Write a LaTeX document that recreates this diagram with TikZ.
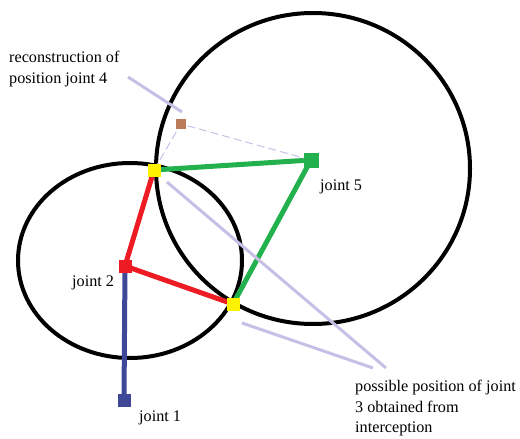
\documentclass[tikz,border=0pt]{standalone}
\usepackage{fontspec}
\setmainfont{Liberation Serif}
\usetikzlibrary{backgrounds}
\definecolor{jblue}{RGB}{63,72,152}
\definecolor{jred}{RGB}{237,28,36}
\definecolor{jgreen}{RGB}{34,177,76}
\definecolor{jyellow}{RGB}{255,242,0}
\definecolor{jbrown}{RGB}{185,122,87}
\definecolor{lav}{RGB}{200,191,231}

\begin{document}
\begin{tikzpicture}[
    x=1pt, y=-1pt,
    joint/.style={draw=none, minimum size=13pt, inner sep=0pt},
    link/.style={line width=5pt},
    reach/.style={line width=4pt, black},
    leader/.style={line width=3pt, lav},
    guess/.style={line width=1pt, lav, dash pattern=on 8pt off 4pt},
    lbl/.style={font=\fontsize{16.2}{20.5}\selectfont, inner sep=0pt, align=left},
]
\useasboundingbox (0,0) rectangle (520,439);

% Joints
\node[joint, fill=jblue] (j1) at (124,400) {};
\node[joint, fill=jred] (j2) at (125,266) {};
\node[joint, fill=jyellow] (j3a) at (233,304) {};
\node[joint, fill=jyellow] (j3b) at (154,170) {};
\node[joint, fill=jbrown, minimum size=10pt] (j4) at (181,124) {};
\node[joint, fill=jgreen, minimum size=15pt] (j5) at (311,160) {};

% Labels
\node[lbl, anchor=base west] (l1) at (139,421) {joint 1};
\node[lbl, anchor=base west] (l2) at (72,286) {joint 2};
\node[lbl, anchor=base west] (l5) at (320,190) {joint 5};
\node[lbl, anchor=north west] (l4) at (9,51) {reconstruction of\\position joint 4};
\node[lbl, anchor=north west] (l3) at (355,380) {possible position of joint\\3 obtained from\\interception};

% Leader ends
\coordinate (a4s) at (128,77);
\coordinate (a4e) at (182,112);
\coordinate (a3s) at (167,182);
\coordinate (a3e) at (386,368);
\coordinate (b3s) at (242,323);
\coordinate (b3e) at (373,368);

\begin{scope}[on background layer]
  % Reach circles
  \draw[reach] (130,260.5) ellipse [x radius=112, y radius=97.5];
  \draw[reach] (313,168.5) ellipse [x radius=157, y radius=155.5];
  % Links
  \draw[link, jblue] (j1.center) -- (j2.center);
  \draw[link, jred] (j3b.center) -- (j2.center) -- (j3a.center);
  \draw[link, jgreen] (j3b.center) -- (j5.center) -- (j3a.center);
  \draw[guess] (j3b.center) -- (j4.center) -- (j5.center);
  % Leaders
  \draw[leader] (a4s) -- (a4e);
  \draw[leader] (a3s) -- (a3e);
  \draw[leader] (b3s) -- (b3e);
\end{scope}

\end{tikzpicture}
\end{document}
